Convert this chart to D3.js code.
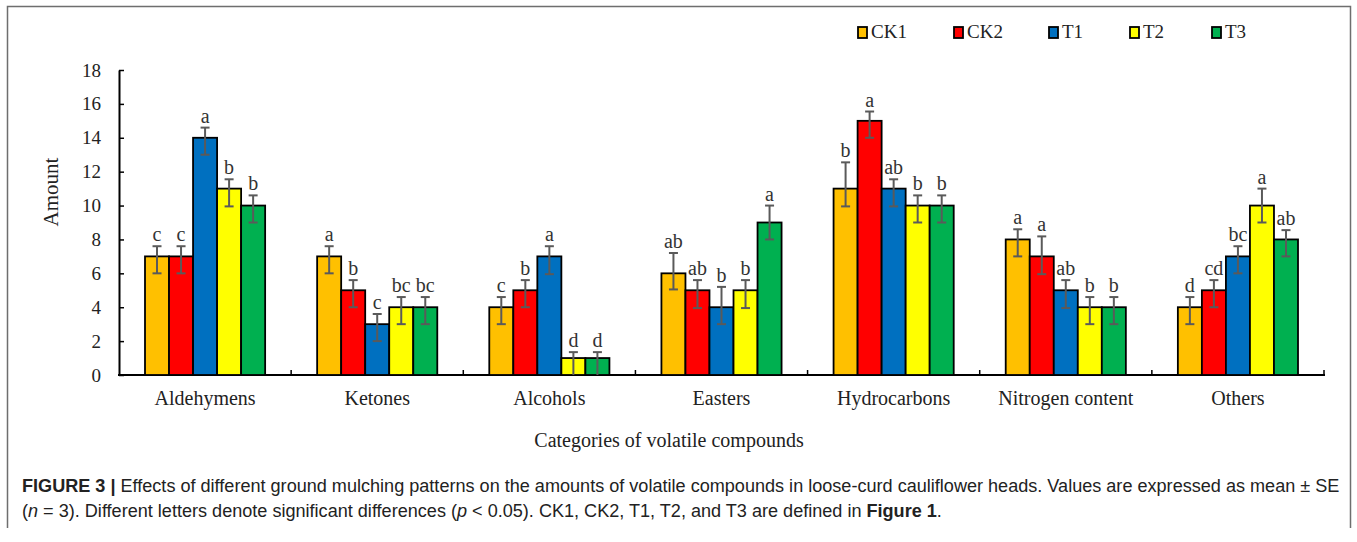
<!DOCTYPE html>
<html>
<head>
<meta charset="utf-8">
<script src="https://cdn.jsdelivr.net/npm/d3@7"></script>
<style>
  body { margin: 0; background: #fff; }
  svg { display: block; }
  .serif { font-family: "Liberation Serif", "Times New Roman", serif; }
  .cap { font-family: "Liberation Sans", Arial, sans-serif; fill: #222; }
</style>
</head>
<body>
<div id="chart"></div>
<script>
// categories and series
const categories = ["Aldehymens", "Ketones", "Alcohols", "Easters", "Hydrocarbons", "Nitrogen content", "Others"];
const seriesNames = ["CK1", "CK2", "T1", "T2", "T3"];
const seriesColors = ["#FFC000", "#FF0000", "#0070C0", "#FFFF00", "#00B050"];

const ck1 = [7, 7, 4, 6, 11, 8, 4];
const ck2 = [7, 5, 5, 5, 15, 7, 5];
const t1  = [14, 3, 7, 4, 11, 5, 7];
const t2  = [11, 4, 1, 5, 10, 4, 10];
const t3  = [10, 4, 1, 9, 10, 4, 8];

// error bars (upper / lower half)
const errUpCk1 = [0.6, 0.6, 0.6, 1.2, 1.55, 0.6, 0.6];
const errUpCk2 = [0.6, 0.6, 0.6, 0.6, 0.55, 1.18, 0.6];
const errUpT1  = [0.6, 0.6, 0.6, 1.2, 0.55, 0.6, 0.6];
const errUpT2  = [0.55, 0.6, 0.35, 0.6, 0.6, 0.6, 1.0];
const errUpT3  = [0.6, 0.6, 0.35, 1.0, 0.6, 0.6, 0.55];
const errDownCk1 = [1.0, 1.0, 1.0, 0.95, 1.05, 1.0, 1.0];
const errDownCk2 = [1.0, 1.0, 1.0, 1.05, 1.0, 1.05, 1.0];
const errDownT1  = [1.0, 1.0, 1.05, 1.0, 1.05, 1.05, 1.0];
const errDownT2  = [1.05, 1.0, 1.0, 1.05, 1.0, 1.0, 1.0];
const errDownT3  = [1.0, 1.0, 1.0, 1.0, 1.0, 1.0, 1.0];

// significance letters
const lettersCk1 = ["c", "a", "c", "ab", "b", "a", "d"];
const lettersCk2 = ["c", "b", "b", "ab", "a", "a", "cd"];
const lettersT1  = ["a", "c", "a", "b", "ab", "ab", "bc"];
const lettersT2  = ["b", "bc", "d", "b", "b", "b", "a"];
const lettersT3  = ["b", "bc", "d", "a", "b", "b", "ab"];

const yTicks = [0, 2, 4, 6, 8, 10, 12, 14, 16, 18];

const values = [ck1, ck2, t1, t2, t3];
const errUp = [errUpCk1, errUpCk2, errUpT1, errUpT2, errUpT3];
const errDown = [errDownCk1, errDownCk2, errDownT1, errDownT2, errDownT3];
const letters = [lettersCk1, lettersCk2, lettersT1, lettersT2, lettersT3];

const width = 1357, height = 542;
const svg = d3.select("#chart").append("svg")
    .attr("width", width)
    .attr("height", height);

// outer frame (figure + caption box)
svg.append("path")
    .attr("d", "M7.5,528 V6.5 H1350.5 V528")
    .attr("fill", "none")
    .attr("stroke", "#6e6e6e")
    .attr("stroke-width", 1.5);

const x0 = d3.scaleBand().domain(categories).range([119, 1324]).padding(0);
const x1 = d3.scaleBand().domain(seriesNames)
    .range([26, x0.bandwidth() - 26]).padding(0);
const y = d3.scaleLinear().domain([0, 18]).range([375, 70]);

// y axis
const yAxis = svg.append("g")
    .attr("transform", "translate(119,0)")
    .call(d3.axisLeft(y).tickValues(yTicks).tickSizeInner(-5).tickSizeOuter(0).tickPadding(18));
yAxis.select(".domain").attr("stroke", "#000").attr("stroke-width", 2);
yAxis.selectAll(".tick line").attr("stroke", "#000").attr("stroke-width", 1.5);
yAxis.selectAll(".tick text")
    .attr("class", "serif")
    .style("font-size", "19px")
    .attr("fill", "#222");

// x axis line with boundary ticks
const boundaries = categories.map(c => x0(c)).concat([x0.range()[1]]);
svg.append("line")
    .attr("x1", 118).attr("x2", 1325)
    .attr("y1", y(0)).attr("y2", y(0))
    .attr("stroke", "#000").attr("stroke-width", 2);
svg.append("g").selectAll("line")
    .data(boundaries.slice(1))
    .enter().append("line")
    .attr("x1", d => d).attr("x2", d => d)
    .attr("y1", y(0)).attr("y2", y(0) - 5)
    .attr("stroke", "#000").attr("stroke-width", 1.5);

// category labels
svg.append("g").selectAll("text")
    .data(categories)
    .enter().append("text")
    .attr("class", "serif")
    .attr("x", d => x0(d) + x0.bandwidth() / 2)
    .attr("y", 405)
    .attr("text-anchor", "middle")
    .style("font-size", "20px")
    .attr("fill", "#222")
    .text(d => d);

// bars
const groups = svg.append("g").selectAll("g")
    .data(categories)
    .enter().append("g")
    .attr("transform", d => `translate(${x0(d)},0)`);

const cells = groups.selectAll("g")
    .data((c, ci) => seriesNames.map((s, si) => ({
        s: s, si: si,
        v: values[si][ci],
        up: errUp[si][ci],
        down: errDown[si][ci],
        letter: letters[si][ci]
    })))
    .enter().append("g");

cells.append("rect")
    .attr("x", d => x1(d.s))
    .attr("y", d => y(d.v))
    .attr("width", x1.bandwidth())
    .attr("height", d => y(0) - y(d.v))
    .attr("fill", d => seriesColors[d.si])
    .attr("stroke", "#000")
    .attr("stroke-width", 1.8);

const errColor = "#5a5a5a";
const cx = d => x1(d.s) + x1.bandwidth() / 2;
cells.append("line")
    .attr("x1", cx).attr("x2", cx)
    .attr("y1", d => y(d.v + d.up))
    .attr("y2", d => y(Math.max(0, d.v - d.down)))
    .attr("stroke", errColor).attr("stroke-width", 2);
cells.append("line")
    .attr("x1", d => cx(d) - 4.5).attr("x2", d => cx(d) + 4.5)
    .attr("y1", d => y(d.v + d.up)).attr("y2", d => y(d.v + d.up))
    .attr("stroke", errColor).attr("stroke-width", 2);
cells.filter(d => d.v - d.down > 0.05).append("line")
    .attr("x1", d => cx(d) - 4.5).attr("x2", d => cx(d) + 4.5)
    .attr("y1", d => y(d.v - d.down)).attr("y2", d => y(d.v - d.down))
    .attr("stroke", errColor).attr("stroke-width", 2);

cells.append("text")
    .attr("class", "serif")
    .attr("x", cx)
    .attr("y", d => y(d.v + d.up) - 5)
    .attr("text-anchor", "middle")
    .style("font-size", "20px")
    .attr("fill", "#333")
    .text(d => d.letter);

// axis titles
svg.append("text")
    .attr("class", "serif")
    .attr("transform", "translate(58,192) rotate(-90)")
    .attr("text-anchor", "middle")
    .style("font-size", "21px")
    .attr("fill", "#222")
    .text("Amount");

svg.append("text")
    .attr("class", "serif")
    .attr("x", 669)
    .attr("y", 447)
    .attr("text-anchor", "middle")
    .style("font-size", "20px")
    .attr("fill", "#222")
    .text("Categories of volatile compounds");

// legend
const legendX = [858, 954, 1049, 1130, 1212];
const legend = svg.append("g").selectAll("g")
    .data(seriesNames)
    .enter().append("g")
    .attr("transform", (d, i) => `translate(${legendX[i]},27)`);
legend.append("rect")
    .attr("width", 9).attr("height", 11)
    .attr("fill", (d, i) => seriesColors[i])
    .attr("stroke", "#000").attr("stroke-width", 1.8);
legend.append("text")
    .attr("class", "serif")
    .attr("x", 13).attr("y", 11)
    .style("font-size", "19px")
    .attr("fill", "#222")
    .text(d => d);

// caption
const cap1 = svg.append("text")
    .attr("class", "cap")
    .attr("x", 22).attr("y", 492)
    .style("font-size", "15.5px");
cap1.append("tspan").attr("font-weight", "bold").text("FIGURE 3 | ");
cap1.append("tspan").text("Effects of different ground mulching patterns on the amounts of volatile compounds in loose-curd cauliflower heads. Values are expressed as mean \u00b1 SE");

const cap2 = svg.append("text")
    .attr("class", "cap")
    .attr("x", 22).attr("y", 517)
    .style("font-size", "15.5px");
cap2.append("tspan").text("(");
cap2.append("tspan").attr("font-style", "italic").text("n");
cap2.append("tspan").text(" = 3). Different letters denote significant differences (");
cap2.append("tspan").attr("font-style", "italic").text("p");
cap2.append("tspan").text(" < 0.05). CK1, CK2, T1, T2, and T3 are defined in ");
cap2.append("tspan").attr("font-weight", "bold").text("Figure 1");
cap2.append("tspan").text(".");

// fit caption line width to the box
const w1 = cap1.node().getComputedTextLength();
const fs = 15.5 * 1318 / w1;
cap1.style("font-size", fs + "px");
cap2.style("font-size", fs + "px");
</script>
</body>
</html>
